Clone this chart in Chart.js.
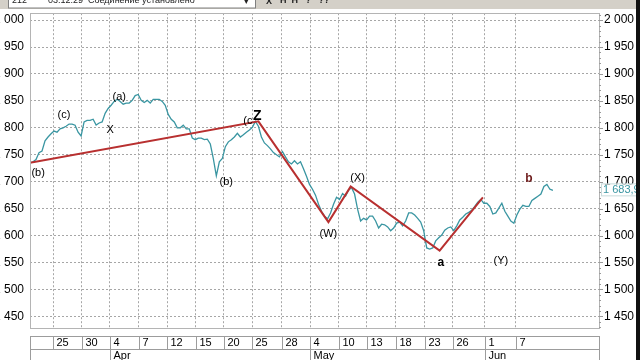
<!DOCTYPE html>
<html>
<head>
<meta charset="utf-8">
<script src="https://cdn.jsdelivr.net/npm/chart.js@4.4.0/dist/chart.umd.min.js"></script>
<style>
  html, body { margin: 0; padding: 0; background: #fff; overflow: hidden; }
  canvas { display: block; }
</style>
</head>
<body>
<canvas id="waveChart" width="640" height="360"></canvas>
<script>
// price, one value per bar
const prices = [
  1735, 1737, 1741, 1754, 1757, 1776, 1783, 1789, 1794, 1792,
  1798, 1800, 1803, 1807, 1807, 1805, 1792, 1785, 1811, 1814,
  1814, 1816, 1805, 1809, 1811, 1827, 1836, 1842, 1849, 1853,
  1849, 1844, 1846, 1846, 1851, 1860, 1862, 1851, 1847, 1851,
  1846, 1853, 1853, 1853, 1849, 1842, 1825, 1816, 1811, 1800,
  1800, 1805, 1798, 1798, 1781, 1778, 1781, 1781, 1778, 1779,
  1770, 1743, 1711, 1737, 1743, 1765, 1774, 1778, 1783, 1790,
  1783, 1787, 1792, 1796, 1801, 1812, 1803, 1783, 1772, 1767,
  1761, 1754, 1750, 1746, 1756, 1746, 1737, 1733, 1739, 1733,
  1737, 1724, 1710, 1695, 1686, 1675, 1658, 1645, 1636, 1631,
  1642, 1658, 1671, 1667, 1678, 1673, 1684, 1689, 1677, 1649,
  1627, 1632, 1629, 1636, 1636, 1627, 1614, 1621, 1620, 1616,
  1609, 1614, 1623, 1625, 1618, 1627, 1642, 1642, 1638, 1632,
  1625, 1609, 1577, 1575, 1577, 1590, 1596, 1601, 1610, 1614,
  1616, 1609, 1618, 1629, 1634, 1640, 1643, 1647, 1654, 1662,
  1667, 1660, 1660, 1654, 1640, 1642, 1651, 1660, 1645, 1636,
  1627, 1623, 1638, 1649, 1656, 1654, 1654, 1665, 1669, 1673,
  1677, 1691, 1695, 1686, 1684
];
const lastPrice = 1683.9;

// red wave count line
const waveBars = [0, 76, 99.3, 106.7, 136.3, 150.7];
const waveVals = [1735, 1812, 1625, 1691, 1572, 1671];

// wave labels
const markText = ["(b)", "(c)", "X", "(a)", "(b)", "(c", "Z", "(W)", "(X)", "a", "(Y)", "b"];
const markBars = [2.7, 11.3, 26.7, 29.7, 65.3, 72.5, 75.6, 99.3, 109, 136.7, 156.7, 166];
const markVals = [1717, 1824, 1796, 1858, 1699, 1812, 1822, 1603, 1706, 1550, 1553, 1706];

// date axis
const dayBars = [7.8, 17.3, 26.5, 36.2, 45.7, 55.2, 64.5, 74, 83.8, 93.3, 102.7, 112, 121.7, 131.3, 140.7, 151.3, 161.7];
const dayLabels = ["25", "30", "4", "7", "12", "15", "20", "25", "28", "4", "10", "13", "18", "23", "26", "1", "7"];
const monthAt = [2, 9, 15];
const monthNames = ["Apr", "May", "Jun"];

// price axis
const yTicks = [1450, 1500, 1550, 1600, 1650, 1700, 1750, 1800, 1850, 1900, 1950, 2000];
const yMin = 1428.3, yMax = 2012.9, xMax = 189.33;

const TEAL = "#3a96a2";
const RED = "#b83030";
const GRID = "#a6a6a6";

function fmtPrice(v) {
  return String(v).replace(/\B(?=(\d{3})+$)/, " ");
}

const framePlugin = {
  id: "frame",
  beforeDraw(chart) {
    const c = chart.ctx;
    c.save();
    c.fillStyle = "#fff";
    c.fillRect(0, 0, chart.width, chart.height);
    // terminal toolbar strip
    c.fillStyle = "#d4d0c8";
    c.fillRect(0, 0, 640, 9);
    c.fillStyle = "#fff";
    c.fillRect(8, 0, 248, 8);
    c.strokeStyle = "#808080";
    c.strokeRect(8.5, -1, 247, 9);
    c.fillStyle = "#222";
    c.font = "9px 'Liberation Sans', Arial";
    c.textBaseline = "alphabetic";
    c.fillText("212", 12, 3);
    c.fillText("03.12.29  Соединение установлено", 48, 3);
    c.fillText("▾", 244, 4);
    c.font = "bold 9px 'Liberation Sans', Arial";
    c.fillText("X", 266, 4);
    c.fillText("H  H   ?   ??", 280, 3);
    c.restore();
  },
  afterDraw(chart) {
    const c = chart.ctx;
    const a = chart.chartArea;
    const xs = chart.scales.x;
    const ys = chart.scales.y2;
    c.save();
    // plot frame
    c.strokeStyle = "#b4b4b4";
    c.lineWidth = 1;
    c.strokeRect(Math.round(a.left) + 0.5, Math.round(a.top) + 0.5, Math.round(a.right - a.left), Math.round(a.bottom - a.top));
    // right axis small ticks
    c.strokeStyle = "#9a9a9a";
    c.beginPath();
    for (let v = 1430; v <= 2010; v += 10) {
      const py = Math.round(ys.getPixelForValue(v)) + 0.5;
      c.moveTo(a.right, py);
      c.lineTo(a.right + (v % 50 === 0 ? 4 : 2), py);
    }
    c.stroke();

    // date strip
    const top = Math.round(a.bottom) + 8;
    const mid = top + 13;
    c.strokeStyle = "#9c9c9c";
    c.strokeRect(Math.round(a.left) + 0.5, top + 0.5, Math.round(a.right - a.left), 40);
    c.beginPath();
    c.moveTo(a.left, mid + 0.5);
    c.lineTo(a.right, mid + 0.5);
    c.stroke();
    c.fillStyle = "#000";
    c.font = "11px 'Liberation Sans', Arial";
    c.textBaseline = "middle";
    c.textAlign = "left";
    dayBars.forEach((b, i) => {
      const px = Math.round(xs.getPixelForValue(b)) + 0.5;
      const m = monthAt.indexOf(i);
      c.beginPath();
      c.moveTo(px, top);
      c.lineTo(px, m >= 0 ? 360 : mid);
      c.stroke();
      c.fillText(dayLabels[i], px + 3, top + 7);
      if (m >= 0) c.fillText(monthNames[m], px + 3, mid + 7);
    });

    // wave labels
    c.textAlign = "center";
    markText.forEach((t, i) => {
      const px = xs.getPixelForValue(markBars[i]);
      const py = chart.scales.y.getPixelForValue(markVals[i]);
      if (t === "Z") c.font = "bold 14px 'Liberation Sans', Arial";
      else if (t === "a" || t === "b") c.font = "bold 12px 'Liberation Sans', Arial";
      else c.font = "11px 'Liberation Sans', Arial";
      c.fillStyle = t === "b" ? "#6e1c1c" : "#000";
      c.fillText(t, px, py);
    });

    // last price tag
    const ly = ys.getPixelForValue(lastPrice);
    c.fillStyle = "#fff";
    c.fillRect(a.right + 2, ly - 6, 40, 12);
    c.strokeStyle = "#c8dcdc";
    c.strokeRect(a.right + 2.5, ly - 6.5, 40, 12);
    c.fillStyle = TEAL;
    c.font = "11px 'Liberation Sans', Arial";
    c.textAlign = "left";
    c.fillText("1 683,9", a.right + 4, ly);

    // window edge
    c.fillStyle = "#111";
    c.fillRect(636, 0, 4, 360);
    c.restore();
  }
};

const axisFont = { family: "'Liberation Sans', Arial", size: 12 };

new Chart(document.getElementById("waveChart"), {
  type: "line",
  data: {
    datasets: [
      {
        data: waveBars.map((b, i) => ({ x: b, y: waveVals[i] })),
        borderColor: RED,
        borderWidth: 2,
        pointRadius: 0,
        order: 0,
      },
      {
        data: prices.map((v, i) => ({ x: i, y: v })),
        borderColor: TEAL,
        borderWidth: 1.3,
        pointRadius: 0,
        tension: 0,
        order: 1,
      },
    ],
  },
  options: {
    responsive: false,
    animation: false,
    events: [],
    layout: { padding: { top: 10, bottom: 32, left: 0, right: 0 } },
    plugins: {
      legend: { display: false },
      tooltip: { enabled: false },
    },
    scales: {
      x: {
        type: "linear",
        min: 0,
        max: xMax,
        afterBuildTicks: (s) => { s.ticks = dayBars.map((v) => ({ value: v })); },
        ticks: { display: false },
        grid: { color: GRID, drawTicks: false },
        border: { display: false, dash: [2, 2] },
      },
      y: {
        position: "left",
        min: yMin,
        max: yMax,
        afterBuildTicks: (s) => { s.ticks = yTicks.map((v) => ({ value: v })); },
        afterFit: (s) => { s.width = 30; },
        ticks: { padding: 6, color: "#000", font: axisFont, callback: (v) => fmtPrice(v) },
        grid: { color: GRID, drawTicks: false },
        border: { display: false, dash: [2, 2] },
      },
      y2: {
        position: "right",
        min: yMin,
        max: yMax,
        afterBuildTicks: (s) => { s.ticks = yTicks.map((v) => ({ value: v })); },
        afterFit: (s) => { s.width = 41; },
        ticks: { padding: 5, color: "#000", font: axisFont, callback: (v) => fmtPrice(v) },
        grid: { display: false, drawTicks: false },
        border: { display: false },
      },
    },
  },
  plugins: [framePlugin],
});
</script>
</body>
</html>
